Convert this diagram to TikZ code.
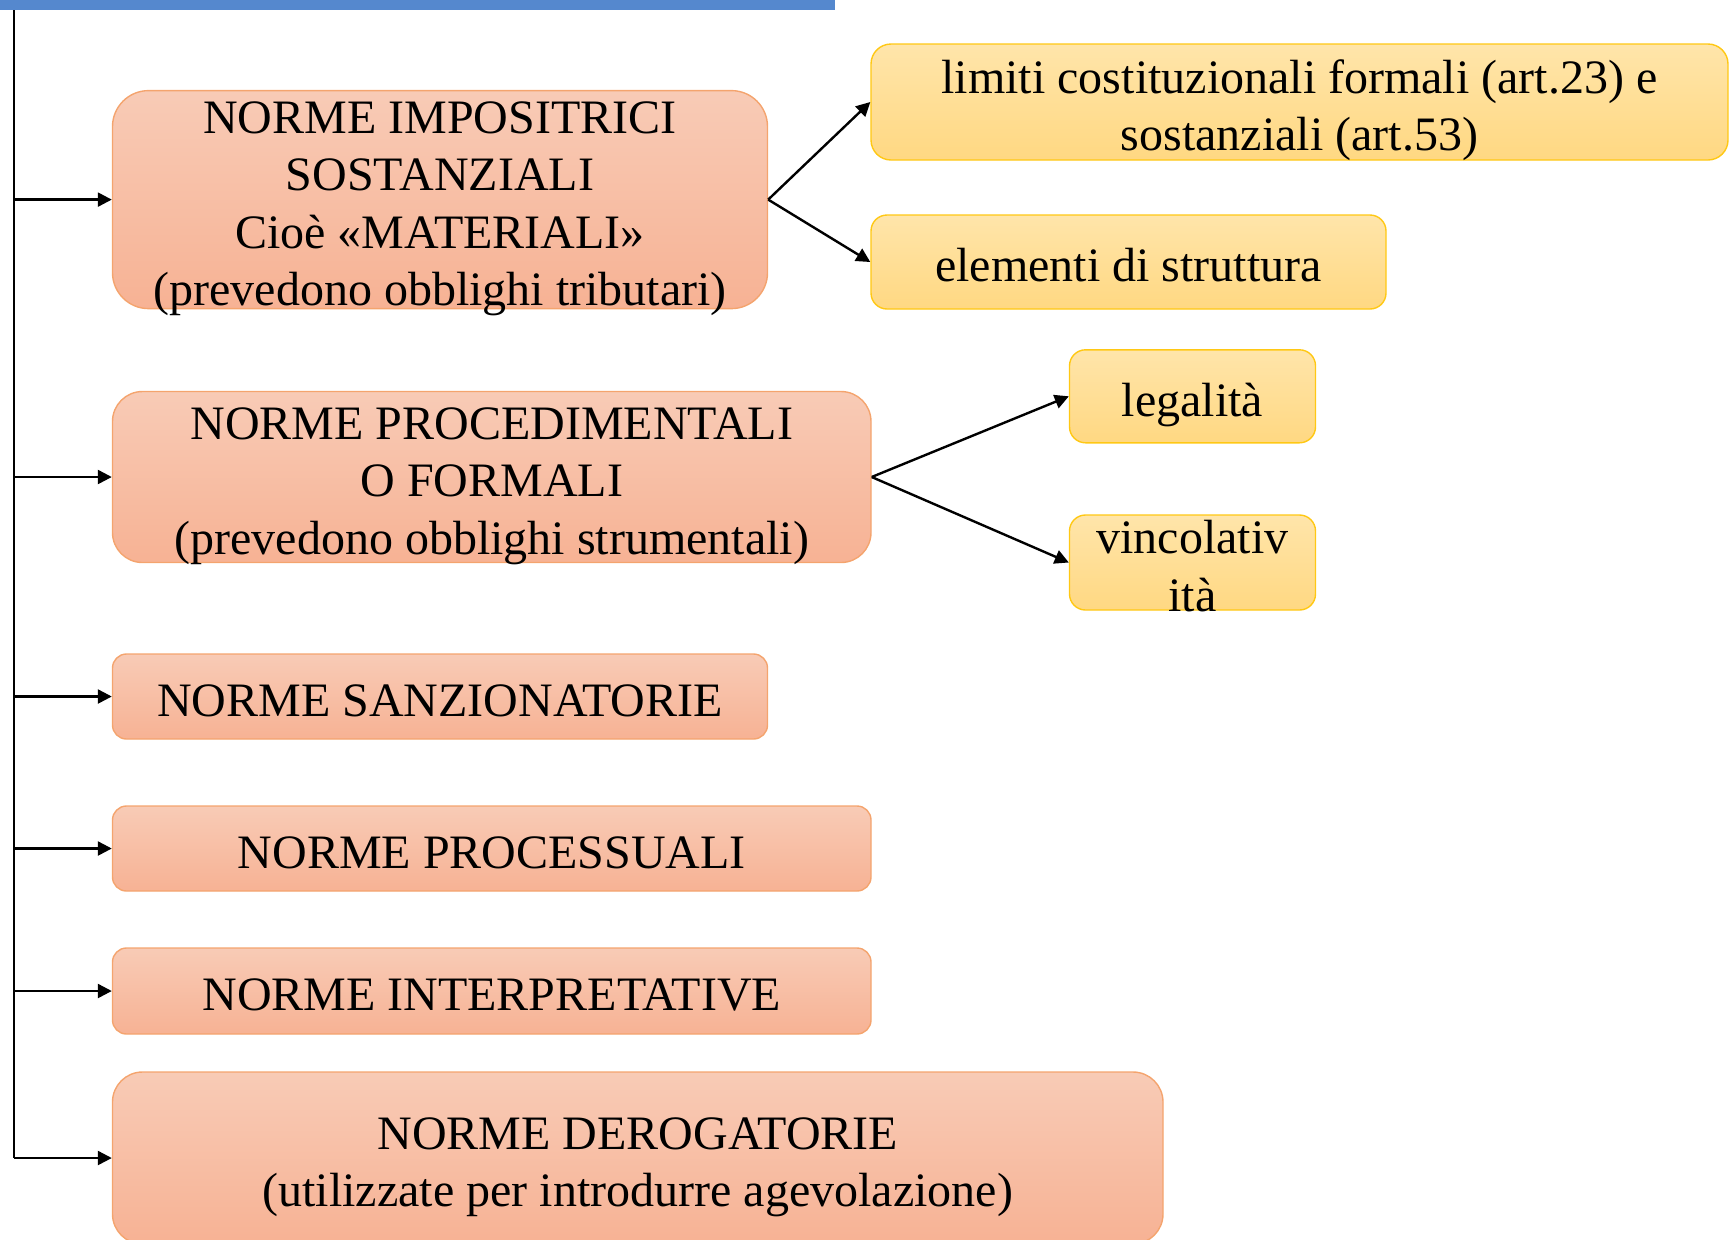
\documentclass[tikz,border=0pt]{standalone}
\usepackage{fontspec}
\setmainfont{Liberation Serif}
\usetikzlibrary{arrows.meta}
\definecolor{salTop}{RGB}{248,203,182}
\definecolor{salBot}{RGB}{247,178,148}
\definecolor{salLine}{RGB}{244,164,110}
\definecolor{yelTop}{RGB}{255,229,170}
\definecolor{yelBot}{RGB}{255,216,130}
\definecolor{yelLine}{RGB}{255,200,20}
\definecolor{barBlue}{RGB}{85,136,206}
\newcommand\stA{\rule{0pt}{25.3pt}}
\newcommand\stB{\rule[-5.5pt]{0pt}{5.5pt}}
\tikzset{
  boxtext/.style={inner xsep=0pt, inner ysep=-40pt, align=center, font=\fontsize{24}{28.8}\selectfont},
  salbox/.style={boxtext, draw=salLine, line width=0.7pt, top color=salTop, bottom color=salBot, rounded corners=#1},
  yelbox/.style={boxtext, draw=yelLine, line width=0.7pt, top color=yelTop, bottom color=yelBot, rounded corners=#1},
  conn/.style={-{Triangle[length=7pt,width=7pt]}, line width=1.2pt},
  trunk/.style={line width=1.3pt}
}
\begin{document}
\begin{tikzpicture}[x=0.5pt,y=-0.5pt]
\useasboundingbox (0,0) rectangle (1729,1239);
\clip (0,0) rectangle (1729,1239);
\fill[barBlue] (0,0) rectangle (835,10);

\node[salbox=18pt, minimum width=327.5pt, minimum height=109pt] (b1) at (440,199.6)
  {\stA NORME IMPOSITRICI\\SOSTANZIALI\\Cioè «MATERIALI»\\(prevedono obblighi tributari)\stB};
\node[salbox=15pt, minimum width=379.25pt, minimum height=85.5pt] (b2) at (491.75,477)
  {\stA NORME PROCEDIMENTALI\\O FORMALI\\(prevedono obblighi strumentali)\stB};
\node[salbox=7pt, minimum width=327.5pt, minimum height=42.5pt] (b3) at (440,696.5)
  {\stA NORME SANZIONATORIE\stB};
\node[salbox=7pt, minimum width=379.25pt, minimum height=42.5pt] (b4) at (491.75,848.5)
  {\stA NORME PROCESSUALI\stB};
\node[salbox=7pt, minimum width=379.25pt, minimum height=43pt] (b5) at (491.75,991)
  {\stA NORME INTERPRETATIVE\stB};
\node[salbox=15pt, minimum width=525.25pt, minimum height=86pt] (b6) at (637.75,1158)
  {\stA NORME DEROGATORIE\\(utilizzate per introdurre agevolazione)\stB};

\node[yelbox=10pt, minimum width=428.5pt, minimum height=58pt] (y1) at (1299.5,102)
  {\stA limiti costituzionali formali (art.23) e\\sostanziali (art.53)\stB};
\node[yelbox=8pt, minimum width=257.5pt, minimum height=47pt] (y2) at (1128.5,262)
  {\stA elementi di struttura\stB};
\node[yelbox=8pt, minimum width=123pt, minimum height=46.5pt] (y3) at (1192.5,396.3)
  {\stA legalità\stB};
\node[yelbox=8pt, minimum width=123pt, minimum height=47.5pt] (y4) at (1192.5,562.5)
  {\stA vincolativ\\ità\stB};

\coordinate (top) at (14,10);
\coordinate (t1) at (14,199.6);
\coordinate (t2) at (14,477);
\coordinate (t3) at (14,696.5);
\coordinate (t4) at (14,848.5);
\coordinate (t5) at (14,991);
\coordinate (t6) at (14,1158);

\draw[trunk] (top) -- (t6);
\draw[conn] (t1) -- (b1.west);
\draw[conn] (t2) -- (b2.west);
\draw[conn] (t3) -- (b3.west);
\draw[conn] (t4) -- (b4.west);
\draw[conn] (t5) -- (b5.west);
\draw[conn] (t6) -- (b6.west);

\draw[conn] (b1.east) -- (y1.west);
\draw[conn] (b1.east) -- (y2.west);
\draw[conn] (b2.east) -- (y3.west);
\draw[conn] (b2.east) -- (y4.west);
\end{tikzpicture}
\end{document}
